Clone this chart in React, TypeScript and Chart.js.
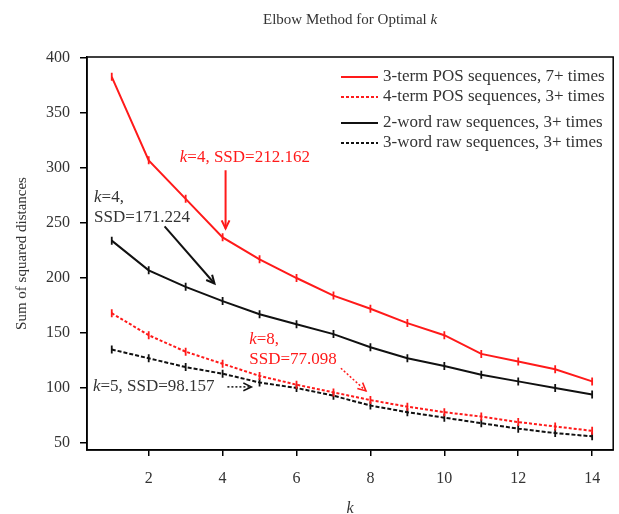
import React, { useEffect, useRef } from "react";
import { Chart, registerables } from "chart.js";
Chart.register(...registerables);

// ---- data ----
const kValues = [1, 2, 3, 4, 5, 6, 7, 8, 9, 10, 11, 12, 13, 14];
const pos3Term7 = [383, 307, 272, 237, 217, 200, 184, 172, 159, 148, 131, 124, 117, 106];
const pos4Term3 = [168, 148, 133, 122, 111, 103, 96, 89, 83, 78, 74, 69, 65, 61];
const raw2Word3 = [234, 207, 192, 179, 167, 158, 149, 137, 127, 120, 112, 106, 100, 94];
const raw3Word3 = [135, 127, 119, 113, 105, 100, 93, 84, 78, 73, 68, 63, 59, 56];
const seriesLabels = [
  "3-term POS sequences, 7+ times",
  "4-term POS sequences, 3+ times",
  "2-word raw sequences, 3+ times",
  "3-word raw sequences, 3+ times",
];
const xTicks = [2, 4, 6, 8, 10, 12, 14];
const yTicks = [50, 100, 150, 200, 250, 300, 350, 400];
const titleText = "Elbow Method for Optimal ";
const yTitle = "Sum of squared distances";

const FONT = "'Liberation Serif', 'Times New Roman', serif";
const RED = "#ff1a1a";
const BLACK = "#111111";
const TEXT = "#333333";

type Part = { t: string; i?: boolean };

function drawParts(ctx: CanvasRenderingContext2D, parts: Part[], x: number, y: number, size: number, color: string, align: "left" | "center" = "left") {
  ctx.save();
  ctx.fillStyle = color;
  ctx.textBaseline = "middle";
  ctx.textAlign = "left";
  let total = 0;
  for (const p of parts) {
    ctx.font = `${p.i ? "italic " : ""}${size}px ${FONT}`;
    total += ctx.measureText(p.t).width;
  }
  let cx = align === "center" ? x - total / 2 : x;
  for (const p of parts) {
    ctx.font = `${p.i ? "italic " : ""}${size}px ${FONT}`;
    ctx.fillText(p.t, cx, y);
    cx += ctx.measureText(p.t).width;
  }
  ctx.restore();
}

function arrow(ctx: CanvasRenderingContext2D, x1: number, y1: number, x2: number, y2: number, color: string, width: number, dash: number[]) {
  ctx.save();
  ctx.strokeStyle = color;
  ctx.lineWidth = width;
  ctx.setLineDash(dash);
  ctx.beginPath();
  ctx.moveTo(x1, y1);
  ctx.lineTo(x2, y2);
  ctx.stroke();
  ctx.setLineDash([]);
  const a = Math.atan2(y2 - y1, x2 - x1);
  const L = 9;
  ctx.beginPath();
  ctx.moveTo(x2 - L * Math.cos(a - 0.45), y2 - L * Math.sin(a - 0.45));
  ctx.lineTo(x2, y2);
  ctx.lineTo(x2 - L * Math.cos(a + 0.45), y2 - L * Math.sin(a + 0.45));
  ctx.stroke();
  ctx.restore();
}

const decorPlugin = {
  id: "decor",
  afterDraw(chart: any) {
    const { ctx, chartArea: ca, scales } = chart;
    const X = (v: number) => scales.x.getPixelForValue(v);
    const Y = (v: number) => scales.y.getPixelForValue(v);
    const cx = (ca.left + ca.right) / 2;

    // frame
    ctx.save();
    ctx.strokeStyle = "#000";
    ctx.lineWidth = 1.5;
    ctx.strokeRect(ca.left, ca.top, ca.right - ca.left, ca.bottom - ca.top);
    ctx.restore();

    // title
    drawParts(ctx, [{ t: titleText }, { t: "k", i: true }], cx, 20, 15, TEXT, "center");
    // x title
    drawParts(ctx, [{ t: "k", i: true }], cx, 509, 16, TEXT, "center");
    // y title
    ctx.save();
    ctx.translate(22, (ca.top + ca.bottom) / 2);
    ctx.rotate(-Math.PI / 2);
    ctx.font = `15px ${FONT}`;
    ctx.fillStyle = TEXT;
    ctx.textAlign = "center";
    ctx.textBaseline = "middle";
    ctx.fillText(yTitle, 0, 0);
    ctx.restore();

    // legend
    const colors = [RED, RED, BLACK, BLACK];
    const dashes = [[], [3, 2], [], [3, 2]];
    const rowsY = [77, 97, 123, 143];
    chart.data.datasets.forEach((_: any, i: number) => {
      ctx.save();
      ctx.strokeStyle = colors[i];
      ctx.lineWidth = 2;
      ctx.setLineDash(dashes[i]);
      ctx.beginPath();
      ctx.moveTo(341, rowsY[i]);
      ctx.lineTo(378, rowsY[i]);
      ctx.stroke();
      ctx.restore();
      drawParts(ctx, [{ t: seriesLabels[i] }], 383, rowsY[i], 17, TEXT);
    });

    // annotations
    drawParts(ctx, [{ t: "k", i: true }, { t: "=4, SSD=212.162" }], X(2.84), Y(310), 17, RED);
    arrow(ctx, X(4.08), Y(298), X(4.08), Y(245), RED, 2, []);

    drawParts(ctx, [{ t: "k", i: true }, { t: "=4," }], X(0.52), Y(273.6), 17, TEXT);
    drawParts(ctx, [{ t: "SSD=171.224" }], X(0.52), Y(254.6), 17, TEXT);
    arrow(ctx, X(2.43), Y(247), X(3.78), Y(195), BLACK, 2, []);

    drawParts(ctx, [{ t: "k", i: true }, { t: "=8," }], X(4.72), Y(143.7), 17, RED);
    drawParts(ctx, [{ t: "SSD=77.098" }], X(4.72), Y(125.5), 17, RED);
    arrow(ctx, X(7.2), Y(118), X(7.88), Y(97.3), RED, 1.5, [2, 2]);

    drawParts(ctx, [{ t: "k", i: true }, { t: "=5, SSD=98.157" }], X(0.49), Y(101), 17, TEXT);
    arrow(ctx, X(4.13), Y(101), X(4.78), Y(101), BLACK, 1.5, [2, 2]);
  },
};

export default function App() {
  const ref = useRef<HTMLCanvasElement>(null);
  useEffect(() => {
    if (!ref.current) return;
    const mk = (label: string, vals: number[], color: string, dash: number[], width: number) => ({
      label,
      data: kValues.map((k, i) => ({ x: k, y: vals[i] })),
      borderColor: color,
      backgroundColor: color,
      borderWidth: width,
      borderDash: dash,
      pointStyle: "line",
      pointRotation: 90,
      pointRadius: 4,
      pointBorderWidth: 1.8,
      pointBorderColor: color,
      tension: 0,
      fill: false,
    });
    const chart = new Chart(ref.current, {
      type: "line",
      data: {
        datasets: [
          mk(seriesLabels[0], pos3Term7, RED, [], 2),
          mk(seriesLabels[1], pos4Term3, RED, [3, 2], 2),
          mk(seriesLabels[2], raw2Word3, BLACK, [], 2),
          mk(seriesLabels[3], raw3Word3, BLACK, [4, 2], 2),
        ],
      },
      options: {
        animation: false,
        responsive: true,
        maintainAspectRatio: false,
        layout: { padding: { top: 57, right: 4, left: 0, bottom: 0 } },
        plugins: { legend: { display: false }, title: { display: false }, tooltip: { enabled: false } },
        scales: {
          x: {
            type: "linear",
            min: 0.33,
            max: 14.57,
            afterBuildTicks: (s: any) => {
              s.ticks = xTicks.map((v) => ({ value: v }));
            },
            afterFit: (s: any) => {
              s.height = 64;
            },
            grid: { display: true, drawOnChartArea: false, drawTicks: true, tickLength: 6, color: "#000", lineWidth: 1.5 },
            border: { display: true, color: "#000", width: 1.5 },
            ticks: { font: { family: FONT, size: 16 }, color: TEXT, padding: 13, maxRotation: 0, autoSkip: false },
          },
          y: {
            type: "linear",
            min: 43.6,
            max: 401,
            afterBuildTicks: (s: any) => {
              s.ticks = yTicks.map((v) => ({ value: v }));
            },
            afterFit: (s: any) => {
              s.width = 87;
            },
            grid: { display: true, drawOnChartArea: false, drawTicks: true, tickLength: 7, color: "#000", lineWidth: 1.5 },
            border: { display: true, color: "#000", width: 1.5 },
            ticks: { font: { family: FONT, size: 16 }, color: TEXT, padding: 10, autoSkip: false },
          },
        },
      },
      plugins: [decorPlugin],
    } as any);
    return () => chart.destroy();
  }, []);
  return (
    <div style={{ position: "absolute", left: 0, top: 0, width: 619, height: 514, background: "#fff" }}>
      <canvas ref={ref} />
    </div>
  );
}
